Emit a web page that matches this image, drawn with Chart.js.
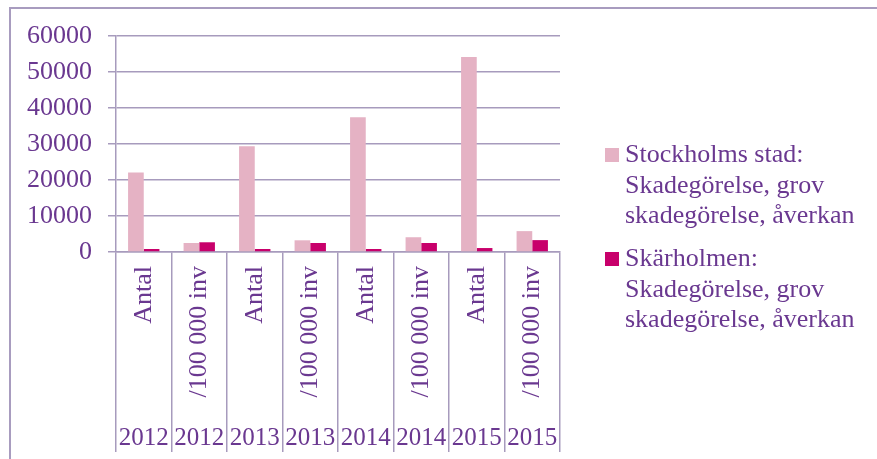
<!DOCTYPE html>
<html>
<head>
<meta charset="utf-8">
<script src="https://cdn.jsdelivr.net/npm/chart.js@4"></script>
<style>
  html, body { margin: 0; padding: 0; background: #fff; }
  #wrap { position: relative; width: 877px; height: 459px; overflow: hidden; font-family: "Liberation Serif", "Times New Roman", serif; color: #6a3890; }
  #frame { position: absolute; left: 9px; top: 7px; width: 1000px; height: 600px; border-left: 2px solid #a89cbf; border-top: 2px solid #a89cbf; }
  canvas { position: absolute; left: 0; top: 0; }
  .leg { position: absolute; left: 605px; }
  .leg .box { position: absolute; left: 0; width: 14px; height: 14px; }
  .leg .txt { position: absolute; left: 20px; font-size: 26px; line-height: 30.5px; white-space: nowrap; }
</style>
</head>
<body>
<div id="wrap">
  <div id="frame"></div>
  <canvas id="chart" width="877" height="459"></canvas>
  <div id="legend"></div>
</div>
<script>
// ── Data ─────────────────────────────────────────────
const kategorier = ['Antal', '/100 000 inv', 'Antal', '/100 000 inv', 'Antal', '/100 000 inv', 'Antal', '/100 000 inv'];
const ar         = ['2012', '2012', '2013', '2013', '2014', '2014', '2015', '2015'];
const stockholm  = [22100, 2500, 29400, 3250, 37400, 4100, 54200, 5800];
const skarholmen = [830, 2700, 830, 2500, 830, 2500, 1100, 3300];
const yMax  = 60000;
const yStep = 10000;

const serier = [
  { label: ['Stockholms stad:', 'Skadegörelse, grov', 'skadegörelse, åverkan'], data: stockholm,  color: '#e5b2c4' },
  { label: ['Skärholmen:', 'Skadegörelse, grov', 'skadegörelse, åverkan'],      data: skarholmen, color: '#c8006b' }
];

const textColor = '#6a3890';
const gridColor = '#a79bbd';
const font = { family: '"Liberation Serif", "Times New Roman", serif', size: 26 };

new Chart(document.getElementById('chart'), {
  type: 'bar',
  data: {
    labels: kategorier,
    datasets: serier.map(s => ({
      label: s.label.join(' '),
      data: s.data,
      backgroundColor: s.color,
      borderWidth: 0,
      categoryPercentage: 0.565,
      barPercentage: 1,
      xAxisID: 'x'
    }))
  },
  options: {
    responsive: false,
    animation: false,
    layout: { padding: { left: 10, right: 317, top: 36, bottom: 7 } },
    plugins: { legend: { display: false }, tooltip: { enabled: false } },
    scales: {
      y: {
        min: 0, max: yMax,
        ticks: { stepSize: yStep, color: textColor, font, padding: 16, callback: v => String(v) },
        grid: { color: gridColor, lineWidth: 1.5, tickLength: 8 },
        border: { color: gridColor, width: 1.5 },
        afterFit: s => { s.width = 106; }
      },
      x: {
        offset: true,
        ticks: { color: textColor, font, autoSkip: false, minRotation: 90, maxRotation: 90, padding: -186 },
        grid: { offset: true, drawOnChartArea: false, color: gridColor, lineWidth: 1.5, tickLength: 200 },
        border: { color: gridColor, width: 1.5 },
        afterFit: s => { s.height = 170; }
      },
      x2: {
        type: 'category',
        labels: ar,
        position: 'bottom',
        offset: true,
        ticks: { color: textColor, font: { family: font.family, size: 25 }, autoSkip: false, maxRotation: 0, padding: -7 },
        grid: { display: false },
        border: { display: false },
        afterFit: s => { s.height = 30; }
      }
    }
  }
});

// ── Legend ───────────────────────────────────────────
const legendEl = document.getElementById('legend');
const legTops = [139, 243];
serier.forEach((s, i) => {
  const d = document.createElement('div');
  d.className = 'leg';
  d.style.top = legTops[i] + 'px';
  d.innerHTML = `<div class="box" style="top:9px;background:${s.color}"></div>
    <div class="txt">${s.label.join('<br>')}</div>`;
  legendEl.appendChild(d);
});
</script>
</body>
</html>
